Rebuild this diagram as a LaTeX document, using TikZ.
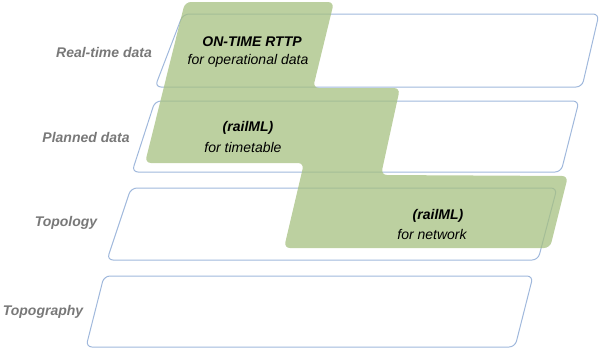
\documentclass[tikz,border=0pt]{standalone}
\usepackage{fontspec}
\setmainfont{Liberation Sans}
\usepackage{tikz}
\definecolor{layerblue}{RGB}{160,184,220}
\definecolor{leafgreen}{RGB}{166,192,128}
\definecolor{labelgray}{RGB}{120,120,120}

\begin{document}
\begin{tikzpicture}[x=1pt,y=-1pt]

    \tikzset{layer/.style={draw=layerblue, line width=1pt, rounded corners=6pt},
      block/.style={fill=leafgreen, fill opacity=0.75, rounded corners=6pt},
      lvl/.style={text=labelgray, font=\fontsize{14}{16}\selectfont\bfseries\itshape, inner sep=0pt},
      head/.style={font=\fontsize{14}{16}\selectfont\bfseries\itshape, inner sep=0pt},
      sub/.style={font=\fontsize{14}{16}\selectfont\itshape, inner sep=0pt}}
    \useasboundingbox (0,0) rectangle (601,349);

    % the four layers
    \draw[layer] (183,14) -- (599,14) -- (582,87) -- (155,87) -- cycle;
    \draw[layer] (155,101) -- (579,101) -- (561,172) -- (132,172) -- cycle;
    \draw[layer] (131,188) -- (557,188) -- (538,260) -- (107,260) -- cycle;
    \draw[layer] (104,276) -- (533,276) -- (515,347) -- (86,347) -- cycle;

    % standards
    \fill[block] (185,2) -- (334,2) -- (313,88) -- (400,88) -- (381,175) -- (568,176)
      -- (550,248) -- (284,248) -- (304,163) -- (145,163) -- cycle;

    \node[lvl] (realtime) at (104,52) {Real-time data};
    \node[lvl] (planned) at (86,137) {Planned data};
    \node[lvl] (topology) at (66,223) {Topology};
    \node[lvl] (topography) at (43,312) {Topography};

    \node[head] (rttp) at (252,42) {ON-TIME RTTP};
    \node[sub] (rttpfor) at (248,61) {for operational data};
    \node[head] (tt) at (248,128) {(railML)};
    \node[sub] (ttfor) at (243,147) {for timetable};
    \node[head] (net) at (438,216) {(railML)};
    \node[sub] (netfor) at (432,234) {for network};

\end{tikzpicture}
\end{document}
